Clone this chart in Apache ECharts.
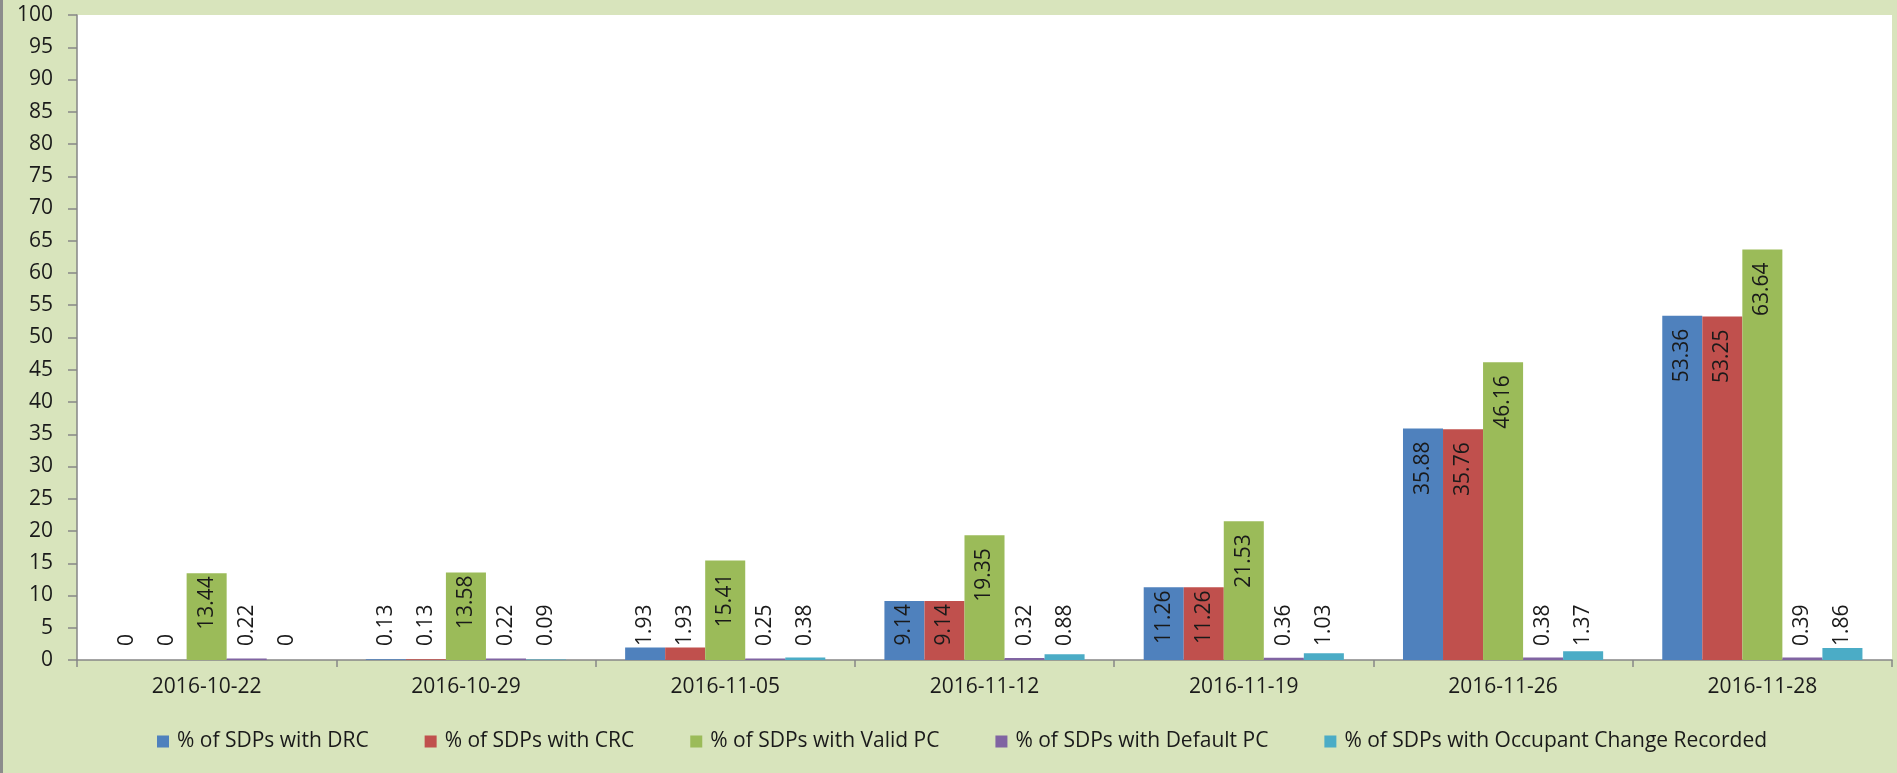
<!DOCTYPE html>
<html>
<head>
<meta charset="utf-8">
<script src="https://cdn.jsdelivr.net/npm/echarts@6/dist/echarts.min.js"></script>
<style>
html,body{margin:0;padding:0;background:#D8E4BC;}
#c{width:1897px;height:773px;}
</style>
</head>
<body>
<div id="c"></div>
<script>
const categories = ['2016-10-22','2016-10-29','2016-11-05','2016-11-12','2016-11-19','2016-11-26','2016-11-28'];
const seriesNames = ['% of SDPs with DRC','% of SDPs with CRC','% of SDPs with Valid PC','% of SDPs with Default PC','% of SDPs with Occupant Change Recorded'];
const drc = [0, 0.13, 1.93, 9.14, 11.26, 35.88, 53.36];
const crc = [0, 0.13, 1.93, 9.14, 11.26, 35.76, 53.25];
const validPc = [13.44, 13.58, 15.41, 19.35, 21.53, 46.16, 63.64];
const defaultPc = [0.22, 0.22, 0.25, 0.32, 0.36, 0.38, 0.39];
const occupant = [0, 0.09, 0.38, 0.88, 1.03, 1.37, 1.86];
const yTicks = {min: 0, max: 100, interval: 5};

const colors = ['#4F81BD','#C0504D','#9BBB59','#8064A2','#4BACC6'];
const FONT = 'Open Sans';
const TXT = '#1A1A1A';

function items(vals){
  return vals.map(v => {
    let label;
    if (v > 8) {
      label = {position: 'insideTop', distance: v > 15 ? 13 : 3, align: 'right', verticalAlign: 'middle'};
    } else {
      label = {position: 'insideBottom', distance: 14, align: 'left', verticalAlign: 'middle'};
    }
    return {value: v, label: label};
  });
}

const allData = [drc, crc, validPc, defaultPc, occupant];
const series = allData.map((d, i) => ({
  name: seriesNames[i],
  type: 'bar',
  barGap: '0%',
  barCategoryGap: '22.8%',
  itemStyle: {color: colors[i]},
  label: {show: true, rotate: 90, formatter: '{c}', fontFamily: FONT, fontSize: 21, color: TXT},
  data: items(d)
}));

const chart = echarts.init(document.getElementById('c'), null, {renderer: 'canvas'});
chart.setOption({
  animation: false,
  backgroundColor: '#D8E4BC',
  color: colors,
  graphic: [{type: 'rect', left: 0, top: 0, shape: {width: 3, height: 773}, style: {fill: '#8C8C8C'}}],
  grid: {left: 77, right: 5, top: 15, bottom: 113, show: true, backgroundColor: '#FFFFFF', borderWidth: 0, containLabel: false},
  legend: {
    data: seriesNames, left: 152, top: 726, itemWidth: 12, itemHeight: 12, itemGap: 56,
    selectedMode: false, icon: 'rect',
    textStyle: {fontFamily: FONT, fontSize: 21, color: TXT, padding: [0,0,0,3]}
  },
  xAxis: {
    type: 'category', data: categories,
    axisLine: {lineStyle: {color: '#868686', width: 1.5}},
    axisTick: {show: true, length: 7, lineStyle: {color: '#868686', width: 1.5}},
    axisLabel: {fontFamily: FONT, fontSize: 21, color: TXT, margin: 17}
  },
  yAxis: {
    type: 'value', min: yTicks.min, max: yTicks.max, interval: yTicks.interval,
    splitLine: {show: false},
    axisLine: {show: true, lineStyle: {color: '#868686', width: 1.5}},
    axisTick: {show: true, length: 9, lineStyle: {color: '#868686', width: 1.5}},
    axisLabel: {fontFamily: FONT, fontSize: 21, color: TXT, margin: 24}
  },
  series: series
});
</script>
</body>
</html>
